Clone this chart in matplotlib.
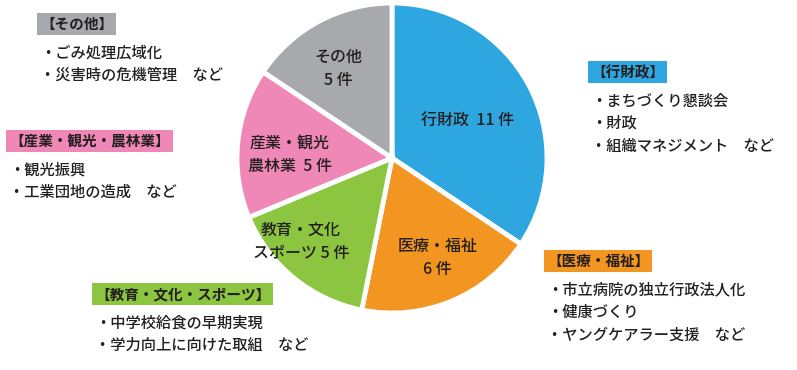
import matplotlib
matplotlib.use("Agg")
import matplotlib.pyplot as plt
import numpy as np

plt.rcParams['font.family'] = ['Noto Sans CJK JP', 'DejaVu Sans']

# slice data (clockwise from the top)
categories = ['行財政', '医療・福祉', '教育・文化・スポーツ', '産業・観光・農林業', 'その他']
counts = [11, 6, 5, 5, 5]
slice_labels = ['行財政  11 件', '医療・福祉\n6 件', '教育・文化\nスポーツ 5 件',
                '産業・観光\n農林業  5 件', 'その他\n5 件']
colors = ['#2ea7e0', '#f39621', '#8cc540', '#ef88b6', '#a8a9ac']

# callout texts
box_titles = ['【行財政】', '【医療・福祉】', '【教育・文化・スポーツ】',
              '【産業・観光・農林業】', '【その他】']
box_items = [
    ['・まちづくり懇談会', '・財政', '・組織マネジメント　など'],
    ['・市立病院の独立行政法人化', '・健康づくり', '・ヤングケアラー支援　など'],
    ['・中学校給食の早期実現', '・学力向上に向けた取組　など'],
    ['・観光振興', '・工業団地の造成　など'],
    ['・ごみ処理広域化', '・災害時の危機管理　など'],
]

W, H = 797, 370
fig = plt.figure(figsize=(W / 100, H / 100), dpi=100)
ax = fig.add_axes([0, 0, 1, 1])

cx, cy, r = 392, H - 158, 155
wedges, _ = ax.pie(counts, colors=colors, startangle=90, counterclock=False,
                   center=(cx, cy), radius=r, frame=True,
                   wedgeprops=dict(edgecolor='white', linewidth=3.5))
ax.set_xlim(0, W)
ax.set_ylim(0, H)
ax.set_aspect('equal')
ax.axis('off')

# label placement inside each slice: (radius fraction, angle offset in degrees)
label_place = [(0.54, -2), (0.71, 2), (0.80, -8), (0.66, 4), (0.67, 3)]
for w, lab, (rf, off) in zip(wedges, slice_labels, label_place):
    ang = np.deg2rad((w.theta1 + w.theta2) / 2 + off)
    ax.text(cx + rf * r * np.cos(ang), cy + rf * r * np.sin(ang), lab,
            ha='center', va='center', fontsize=11.5, fontweight='medium',
            color='#231f20', linespacing=1.45)

# callout boxes: (left x, title centre y) in pixels
box_pos = [(591, 72), (547, 261), (95, 294), (9, 141), (40, 24)]
for (x, y), title, items, col in zip(box_pos, box_titles, box_items, colors):
    ax.text(x, H - y, title, ha='left', va='center', fontsize=10.5,
            fontweight='bold', color='#231f20',
            bbox=dict(boxstyle='square,pad=0.2', facecolor=col, edgecolor='none'))
    for i, it in enumerate(items):
        ax.text(x, H - (y + 29 + 22.5 * i), it, ha='left', va='center',
                fontsize=11, fontweight='medium', color='#231f20')

fig.savefig('out.png', dpi=100, facecolor='white')
